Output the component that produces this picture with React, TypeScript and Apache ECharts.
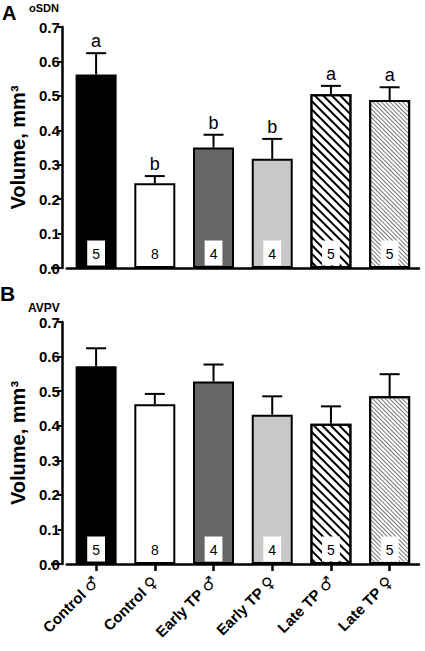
import React, { useEffect, useRef } from "react";
import * as echarts from "echarts";

const groups = ["Control", "Control", "Early TP", "Early TP", "Late TP", "Late TP"];
const sexes = ["♂", "♀", "♂", "♀", "♂", "♀"];
const categories = groups.map((g, i) => g + " " + sexes[i]);
const counts = [5, 8, 4, 4, 5, 5];
const meanA = [0.562, 0.246, 0.35, 0.317, 0.505, 0.488];
const semA = [0.062, 0.021, 0.037, 0.058, 0.024, 0.037];
const lettersA = ["a", "b", "b", "b", "a", "a"];
const meanB = [0.572, 0.462, 0.528, 0.432, 0.406, 0.485];
const semB = [0.052, 0.03, 0.049, 0.053, 0.05, 0.064];
const yTicks = [0, 0.1, 0.2, 0.3, 0.4, 0.5, 0.6, 0.7];

const FONT = "'Liberation Sans', Arial, sans-serif";
const fills = ["#000000", "#ffffff", "#666666", "#c8c8c8", "#ffffff", "#ffffff"];
const decals: any[] = [
  null,
  null,
  null,
  null,
  { symbol: "rect", symbolSize: 1, dashArrayX: [1, 0], dashArrayY: [2, 4], rotation: Math.PI / 4, color: "#000000", backgroundColor: "#ffffff" },
  { symbol: "rect", symbolSize: 1, dashArrayX: [1, 0], dashArrayY: [1, 2], rotation: Math.PI / 4, color: "#777777", backgroundColor: "#ffffff" },
];

function barData(means: number[]) {
  return means.map((v, i) => {
    const item: any = {
      value: v,
      itemStyle: { color: fills[i], borderColor: "#000", borderWidth: 2 },
    };
    if (decals[i]) item.itemStyle.decal = decals[i];
    return item;
  });
}

function errSeries(means: number[], sems: number[], idx: number, letters: string[] | null) {
  return {
    type: "custom",
    xAxisIndex: idx,
    yAxisIndex: idx,
    z: 5,
    data: means.map((m, i) => [i, m, m + sems[i]]),
    encode: { x: 0, y: [1, 2] },
    renderItem: (params: any, api: any) => {
      const i = api.value(0);
      const p0 = api.coord([i, api.value(1)]);
      const p1 = api.coord([i, api.value(2)]);
      const children: any[] = [
        { type: "line", shape: { x1: p0[0], y1: p0[1], x2: p1[0], y2: p1[1] }, style: { stroke: "#000", lineWidth: 2 } },
        { type: "line", shape: { x1: p1[0] - 10, y1: p1[1], x2: p1[0] + 10, y2: p1[1] }, style: { stroke: "#000", lineWidth: 2 } },
      ];
      if (letters) {
        children.push({
          type: "text",
          x: p1[0],
          y: p1[1] - 3,
          style: { text: letters[params.dataIndex], align: "center", verticalAlign: "bottom", fontSize: 18, fontFamily: FONT, fill: "#000" },
        });
      }
      return { type: "group", children };
    },
  };
}

function yAxis(idx: number) {
  return {
    type: "value",
    gridIndex: idx,
    min: yTicks[0],
    max: yTicks[yTicks.length - 1],
    interval: 0.1,
    offset: 5,
    name: "Volume, mm³",
    nameLocation: "middle",
    nameGap: 27,
    nameTextStyle: { fontSize: 20, fontWeight: "bold", fontFamily: FONT, color: "#000" },
    axisLine: { show: true, lineStyle: { color: "#000", width: 2.5 } },
    axisTick: { show: true, length: 4, lineStyle: { color: "#000", width: 2 } },
    axisLabel: { fontSize: 15, fontWeight: "bold", fontFamily: FONT, color: "#000", margin: 2, formatter: (v: number) => v.toFixed(1) },
    splitLine: { show: false },
  };
}

export default function App() {
  const ref = useRef<HTMLDivElement>(null);
  useEffect(() => {
    const chart = echarts.init(ref.current!, null, { renderer: "svg" });
    const labelOpt = {
      show: true,
      position: "insideBottom",
      distance: 2.5,
      formatter: (p: any) => String(counts[p.dataIndex]),
      backgroundColor: "#fff",
      padding: [6, 5, 5, 5],
      fontSize: 14,
      fontFamily: FONT,
      color: "#000",
    };
    chart.setOption({
      animation: false,
      backgroundColor: "#fff",
      grid: [
        { left: 58, right: 6, top: 27, height: 241 },
        { left: 58, right: 6, top: 322, height: 242 },
      ],
      xAxis: [
        {
          type: "category",
          gridIndex: 0,
          data: categories,
          axisLine: { lineStyle: { color: "#000", width: 2.5 } },
          axisTick: { show: false },
          axisLabel: { show: false },
        },
        {
          type: "category",
          gridIndex: 1,
          data: categories,
          axisLine: { lineStyle: { color: "#000", width: 2.5 } },
          axisTick: { show: true, alignWithLabel: true, length: 7, lineStyle: { color: "#000", width: 2.5 } },
          axisLabel: {
            rotate: 45,
            interval: 0,
            margin: 15,
            formatter: (v: string, i: number) => "{t|" + groups[i] + " }{s|" + sexes[i] + "}",
            rich: {
              t: { fontSize: 15, fontWeight: "bold", fontFamily: FONT, color: "#000" },
              s: { fontSize: 16, fontWeight: "bold", fontFamily: "'DejaVu Sans', sans-serif", color: "#000" },
            },
          },
        },
      ],
      yAxis: [yAxis(0), yAxis(1)],
      series: [
        { type: "bar", xAxisIndex: 0, yAxisIndex: 0, barWidth: 41, data: barData(meanA), label: labelOpt },
        errSeries(meanA, semA, 0, lettersA),
        { type: "bar", xAxisIndex: 1, yAxisIndex: 1, barWidth: 41, data: barData(meanB), label: labelOpt },
        errSeries(meanB, semB, 1, null),
      ],
      graphic: [
        { type: "text", left: 2, top: 3, style: { text: "A", fontSize: 20, fontWeight: "bold", fontFamily: FONT, fill: "#000" } },
        { type: "text", left: 29, top: 2, style: { text: "oSDN", fontSize: 11, fontWeight: "bold", fontFamily: FONT, fill: "#000" } },
        { type: "text", left: 0, top: 283, style: { text: "B", fontSize: 21, fontWeight: "bold", fontFamily: FONT, fill: "#000" } },
        { type: "text", left: 28, top: 302, style: { text: "AVPV", fontSize: 12, fontWeight: "bold", fontFamily: FONT, fill: "#000" } },
        { type: "line", shape: { x1: 51, y1: 268, x2: 59, y2: 268 }, style: { stroke: "#000", lineWidth: 2.5 } },
        { type: "line", shape: { x1: 51, y1: 564, x2: 59, y2: 564 }, style: { stroke: "#000", lineWidth: 2.5 } },
      ],
    });
    return () => chart.dispose();
  }, []);
  return <div ref={ref} style={{ position: "absolute", left: 0, top: 0, width: 425, height: 651 }} />;
}
